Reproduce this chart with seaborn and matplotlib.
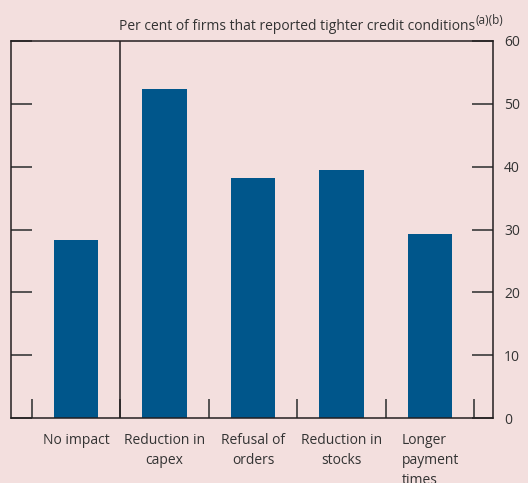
import numpy as np
import matplotlib
matplotlib.use("Agg")
import matplotlib.pyplot as plt
import seaborn as sns

categories = ["No impact", "Reduction in\ncapex", "Refusal of\norders",
              "Reduction in\nstocks", "Longer\npayment\ntimes"]
values = [28.4, 52.3, 38.2, 39.5, 29.3]
y_ticks = [0, 10, 20, 30, 40, 50, 60]

bg = "#f3dfde"
bar_color = "#00568b"
ink = "#231f20"

sns.set_theme(style="white")
plt.rcParams["font.family"] = ["Open Sans", "DejaVu Sans"]

fig = plt.figure(figsize=(5.28, 4.83), dpi=100, facecolor=bg)
ax = fig.add_axes([11 / 528, 65 / 483, 482 / 528, 377 / 483])
ax.set_facecolor(bg)

sns.barplot(x=list(range(len(categories))), y=values, color=bar_color,
            saturation=1, width=0.5, ax=ax, native_scale=True, linewidth=0)

ax.set_xlim(-0.735, 4.71)
ax.set_ylim(0, 60)
ax.set_yticks(y_ticks)

# category labels under the bars, ticks on the category boundaries
ax.set_xticks(range(len(categories)))
ax.set_xticklabels(categories, fontsize=10, color="#333333",
                   linespacing=1.45)
ax.get_xticklabels()[-1].set_multialignment("left")
ax.set_xticks(np.arange(-0.5, len(categories), 1.0), minor=True)
ax.tick_params(axis="x", which="major", length=0, pad=11)
ax.tick_params(axis="x", which="minor", direction="in", length=14,
               width=1.2, color="#3a3a3a", bottom=True)

ax.tick_params(axis="y", which="major", left=True, right=True,
               labelleft=False, labelright=True, direction="in",
               length=15, width=1.2, color="#3a3a3a", pad=8,
               labelsize=10, labelcolor="#333333")

for sp in ax.spines.values():
    sp.set_visible(True)
    sp.set_color(ink)
    sp.set_linewidth(1.1)

# separator between "No impact" and the rest
ax.axvline(0.5, color=ink, lw=1.1)

ax.set_xlabel("")
ax.set_ylabel("")

t = fig.text(119 / 528, 1 - 30 / 483,
             "Per cent of firms that reported tighter credit conditions",
             fontsize=10, color="#333333", ha="left", va="baseline")
ax.annotate("(a)(b)", xy=(1.0, 0.45), xycoords=t, fontsize=8.5,
            color="#333333", ha="left", va="bottom")

fig.savefig("out.png", dpi=100, facecolor=bg)
